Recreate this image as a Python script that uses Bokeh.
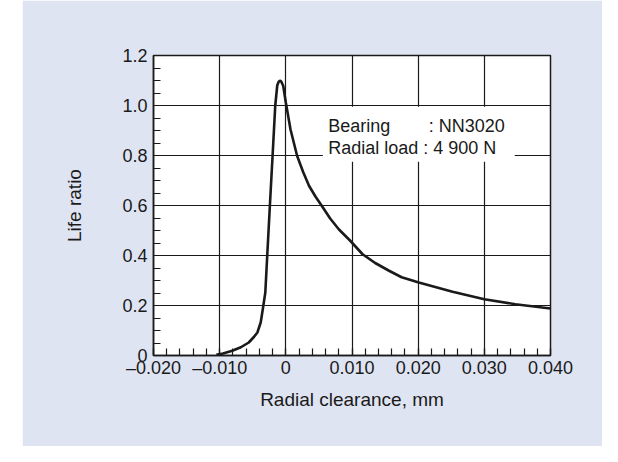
from bokeh.plotting import figure
from bokeh.models import FixedTicker, Label, Spacer
from bokeh.layouts import row
from bokeh.embed import file_html
from bokeh.resources import INLINE

# ---- data ----
clearance = [-0.0105, -0.0095, -0.0081, -0.0068, -0.0056, -0.0048, -0.0043, -0.0038,
             -0.0036, -0.0034, -0.0031, -0.0028, -0.0024, -0.0020, -0.0016, -0.0013,
             -0.0011, -0.0009, -0.0007, -0.0004, 0.0000, 0.0007, 0.0017, 0.0026,
             0.0035, 0.0045, 0.0055, 0.0067, 0.0080, 0.0097, 0.0116, 0.0135,
             0.0156, 0.0175, 0.0201, 0.0252, 0.0300, 0.0347, 0.0400]
life_ratio = [0.003, 0.008, 0.019, 0.033, 0.052, 0.075, 0.092, 0.132,
              0.165, 0.200, 0.252, 0.405, 0.605, 0.800, 0.999, 1.080,
              1.094, 1.099, 1.096, 1.079, 1.012, 0.905, 0.799, 0.735,
              0.679, 0.635, 0.596, 0.548, 0.505, 0.460, 0.405, 0.370,
              0.339, 0.313, 0.292, 0.255, 0.225, 0.205, 0.188]

x_ticks = [-0.02, -0.01, 0.0, 0.01, 0.02, 0.03, 0.04]
x_tick_labels = ["\u20130.020", "\u20130.010", "0", "0.010", "0.020", "0.030", "0.040"]
y_ticks = [0.0, 0.2, 0.4, 0.6, 0.8, 1.0, 1.2]
y_tick_labels = ["0", "0.2", "0.4", "0.6", "0.8", "1.0", "1.2"]

bearing_key = "Bearing"
bearing_val = ": NN3020"
load_line = "Radial load : 4 900 N"

PANEL = "#dfe4f2"
INK = "#1a1a1a"
FONT = "Liberation Sans"

p = figure(width=580, height=446, output_backend="svg", toolbar_location=None,
           x_range=(-0.02, 0.04), y_range=(0.0, 1.2))
p.min_border_left = 131
p.min_border_right = 52
p.min_border_top = 55
p.min_border_bottom = 91
p.border_fill_color = PANEL
p.background_fill_color = "white"
p.outline_line_color = INK
p.outline_line_width = 1.5

x_minor = [round(-0.02 + 0.002 * i, 4) for i in range(31)]
y_minor = [round(0.05 * i, 3) for i in range(25)]
p.xaxis.ticker = FixedTicker(ticks=x_ticks, minor_ticks=x_minor)
p.yaxis.ticker = FixedTicker(ticks=y_ticks, minor_ticks=y_minor)
p.xaxis.major_label_overrides = {t: l for t, l in zip(x_ticks, x_tick_labels)}
p.yaxis.major_label_overrides = {t: l for t, l in zip(y_ticks, y_tick_labels)}

for ax in (p.xaxis, p.yaxis):
    ax.axis_line_color = INK
    ax.axis_line_width = 1.5
    ax.major_tick_in = 7
    ax.major_tick_out = 0
    ax.minor_tick_in = 7
    ax.minor_tick_out = 0
    ax.major_tick_line_color = INK
    ax.minor_tick_line_color = INK
    ax.major_tick_line_width = 1.2
    ax.minor_tick_line_width = 1.2
    ax.major_label_text_font = FONT
    ax.major_label_text_font_size = "18px"
    ax.major_label_text_color = INK
    ax.axis_label_text_font = FONT
    ax.axis_label_text_font_size = "19px"
    ax.axis_label_text_font_style = "normal"
    ax.axis_label_text_color = INK

p.xaxis.axis_label = "Radial clearance, mm"
p.yaxis.axis_label = "Life ratio"
p.xaxis.major_label_standoff = 2
p.yaxis.major_label_standoff = 6
p.xaxis.axis_label_standoff = 8
p.yaxis.axis_label_standoff = 34

p.grid.grid_line_color = INK
p.grid.grid_line_width = 1.2
p.grid.grid_line_alpha = 1.0

# white box behind the annotation (hides grid lines)
p.quad(left=[0.0056], right=[0.0346], bottom=[0.775], top=[0.995],
       fill_color="white", line_color=None)

p.line(clearance, life_ratio, line_color=INK, line_width=2.6)

ann = dict(text_font=FONT, text_font_size="18px", text_color=INK, text_baseline="middle")
p.add_layout(Label(x=0.0064, y=0.918, text=bearing_key, **ann))
p.add_layout(Label(x=0.0216, y=0.918, text=bearing_val, **ann))
p.add_layout(Label(x=0.0064, y=0.832, text=load_line, **ann))

layout = row(Spacer(width=22, height=446), p)
open("out.html", "w").write(file_html(layout, INLINE))
